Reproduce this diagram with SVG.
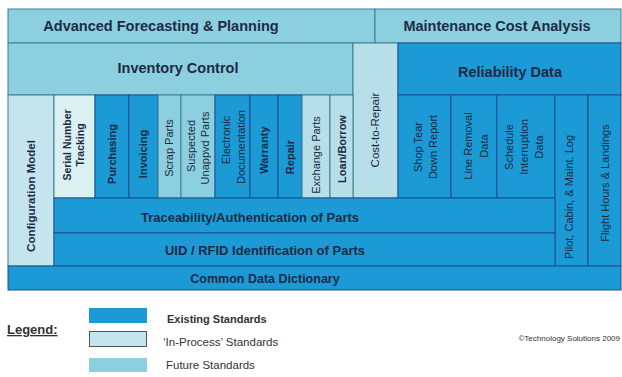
<svg xmlns="http://www.w3.org/2000/svg" width="622" height="377" viewBox="0 0 622 377">
<style>
  .ex { fill: #1c9ad6; stroke: #1f4f8f; stroke-width: 1; }
  .fu { fill: #8ccfdf; stroke: #3c7f95; stroke-width: 1; }
  .ip { fill: #c4e5ed; stroke: #3c7f95; stroke-width: 1; }
  .ip2 { fill: #dbf0f0; stroke: #3c7f95; stroke-width: 1; }
  .ip3 { fill: #b6dfe8; stroke: #3c7f95; stroke-width: 1; }
  .h { font-family: "Liberation Sans", Arial, sans-serif; font-weight: bold; fill: #1d2b45; text-anchor: middle; }
  .v { font-family: "Liberation Sans", Arial, sans-serif; fill: #1d2b45; text-anchor: middle; dominant-baseline: central; }
  .b { font-weight: bold; }
  .lg { font-family: "Liberation Sans", Arial, sans-serif; fill: #333; }
</style>
<rect x="0" y="0" width="622" height="377" fill="#ffffff"/>
<g id="advanced-forecasting">
  <rect class="fu" x="8" y="9" width="367" height="34"/>
  <text class="h" x="161" y="31" font-size="14.5">Advanced Forecasting &amp; Planning</text>
</g>
<g id="maintenance-cost">
  <rect class="fu" x="375" y="9" width="246" height="34"/>
  <text class="h" x="497" y="31" font-size="14.5">Maintenance Cost Analysis</text>
</g>
<g id="inventory-control">
  <rect class="fu" x="8" y="43" width="345" height="52"/>
  <text class="h" x="178" y="73" font-size="14.5">Inventory Control</text>
</g>
<g id="cost-to-repair">
  <rect class="ip3" x="353" y="43" width="45" height="155"/>
  <text class="v" transform="translate(375,130) rotate(-90)" font-size="11.5">Cost-to-Repair</text>
</g>
<g id="reliability-data">
  <rect class="ex" x="398" y="43" width="223" height="52"/>
  <text class="h" x="510" y="77" font-size="14.5">Reliability Data</text>
</g>
<g id="configuration-model">
  <rect class="ip" x="8" y="95" width="46" height="171"/>
  <text class="v b" transform="translate(31,196) rotate(-90)" font-size="11.5">Configuration Model</text>
</g>
<g id="serial-number-tracking">
  <rect class="ip2" x="54" y="95" width="41" height="103"/>
  <text class="v b" transform="translate(67,145) rotate(-90)" font-size="10.5">Serial Number</text>
  <text class="v b" transform="translate(80,145) rotate(-90)" font-size="10.5">Tracking</text>
</g>
<g id="purchasing">
  <rect class="ex" x="95" y="95" width="34" height="103"/>
  <text class="v b" transform="translate(112,154) rotate(-90)" font-size="11">Purchasing</text>
</g>
<g id="invoicing">
  <rect class="ex" x="129" y="95" width="29" height="103"/>
  <text class="v b" transform="translate(143,154) rotate(-90)" font-size="11">Invoicing</text>
</g>
<g id="scrap-parts">
  <rect class="fu" x="158" y="95" width="23" height="103"/>
  <text class="v" transform="translate(169,148) rotate(-90)" font-size="11">Scrap Parts</text>
</g>
<g id="suspected-unappvd-parts">
  <rect class="fu" x="181" y="95" width="34" height="103"/>
  <text class="v" transform="translate(191,146) rotate(-90)" font-size="11">Suspected</text>
  <text class="v" transform="translate(205,148) rotate(-90)" font-size="11">Unappvd Parts</text>
</g>
<g id="electronic-documentation">
  <rect class="ex" x="215" y="95" width="35" height="103"/>
  <text class="v" transform="translate(226,140) rotate(-90)" font-size="11">Electronic</text>
  <text class="v" transform="translate(241,147) rotate(-90)" font-size="11">Documentation</text>
</g>
<g id="warranty">
  <rect class="ex" x="250" y="95" width="28" height="103"/>
  <text class="v b" transform="translate(264,150) rotate(-90)" font-size="11">Warranty</text>
</g>
<g id="repair">
  <rect class="ex" x="278" y="95" width="24" height="103"/>
  <text class="v b" transform="translate(290,157) rotate(-90)" font-size="11">Repair</text>
</g>
<g id="exchange-parts">
  <rect class="ip3" x="302" y="95" width="28" height="103"/>
  <text class="v" transform="translate(316,155) rotate(-90)" font-size="11">Exchange Parts</text>
</g>
<g id="loan-borrow">
  <rect class="ip3" x="330" y="95" width="23" height="103"/>
  <text class="v b" transform="translate(342,149) rotate(-90)" font-size="11">Loan/Borrow</text>
</g>
<g id="shop-tear-down">
  <rect class="ex" x="398" y="95" width="53" height="103"/>
  <text class="v" transform="translate(418,147) rotate(-90)" font-size="11">Shop Tear</text>
  <text class="v" transform="translate(433,147) rotate(-90)" font-size="11">Down Report</text>
</g>
<g id="line-removal">
  <rect class="ex" x="451" y="95" width="46" height="103"/>
  <text class="v" transform="translate(468,146) rotate(-90)" font-size="11">Line Removal</text>
  <text class="v" transform="translate(484,146) rotate(-90)" font-size="11">Data</text>
</g>
<g id="schedule-interruption">
  <rect class="ex" x="497" y="95" width="58" height="103"/>
  <text class="v" transform="translate(509,147) rotate(-90)" font-size="11">Schedule</text>
  <text class="v" transform="translate(524,147) rotate(-90)" font-size="11">Interruption</text>
  <text class="v" transform="translate(539,147) rotate(-90)" font-size="11">Data</text>
</g>
<g id="pilot-cabin-log">
  <rect class="ex" x="555" y="95" width="33" height="171"/>
  <text class="v" transform="translate(569,197) rotate(-90)" font-size="11">Pilot, Cabin, &amp; Maint. Log</text>
</g>
<g id="flight-hours">
  <rect class="ex" x="588" y="95" width="33" height="171"/>
  <text class="v" transform="translate(605,183) rotate(-90)" font-size="11">Flight Hours &amp; Landings</text>
</g>
<g id="traceability">
  <rect class="ex" x="54" y="198" width="501" height="35"/>
  <text class="h" x="250" y="222" font-size="13">Traceability/Authentication of Parts</text>
</g>
<g id="uid-rfid">
  <rect class="ex" x="54" y="233" width="501" height="33"/>
  <text class="h" x="265" y="255" font-size="13">UID / RFID Identification of Parts</text>
</g>
<g id="common-data-dictionary">
  <rect class="ex" x="8" y="266" width="613" height="24"/>
  <text class="h" x="265" y="283" font-size="12.5">Common Data Dictionary</text>
</g>
<g id="connectors"></g>
<g id="legend">
  <text class="lg" x="7" y="334" font-size="13" font-weight="bold" text-decoration="underline">Legend:</text>
  <rect x="89" y="308" width="58" height="15" fill="#1c9ad6"/>
  <rect x="89.5" y="331.5" width="57" height="15" fill="#c4e5ed" stroke="#555" stroke-width="1"/>
  <rect x="89" y="358" width="58" height="14" fill="#8ccfdf"/>
  <text class="lg" x="167" y="323" font-size="11" font-weight="bold">Existing Standards</text>
  <text class="lg" x="163" y="346" font-size="11.5">‘In-Process’ Standards</text>
  <text class="lg" x="166" y="369" font-size="11.5">Future Standards</text>
  <text class="lg" x="620" y="341" font-size="8" text-anchor="end">©Technology Solutions 2009</text>
</g>
</svg>
